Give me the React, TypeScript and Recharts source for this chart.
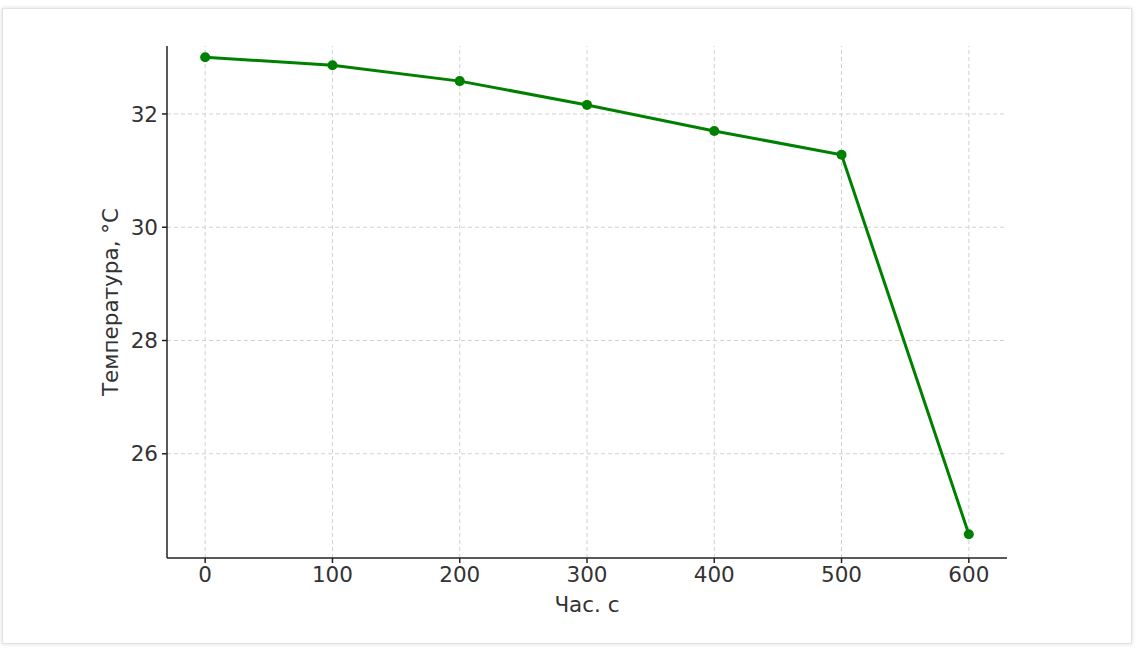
import React from 'react';
import { LineChart, Line, XAxis, YAxis, ReferenceLine } from 'recharts';

const times = [0, 100, 200, 300, 400, 500, 600];
const temps = [33.0, 32.86, 32.58, 32.16, 31.7, 31.28, 24.58];
const xTicks = [0, 100, 200, 300, 400, 500, 600];
const yTicks = [26, 28, 30, 32];

const data = times.map((t, i) => ({ t, temp: temps[i] }));

const font = "'DejaVu Sans', sans-serif";
const fontSize = 21.5;
const axisTick = { fill: '#333', fontSize, fontFamily: font };
const gridColor = '#d0d0d0';

export default function App() {
  return (
    <div
      style={{
        position: 'absolute',
        left: 0,
        top: 0,
        width: 1136,
        height: 648,
        background: '#fff',
        overflow: 'hidden',
      }}
    >
      <div
        style={{
          position: 'absolute',
          left: 2,
          top: 8,
          width: 1128,
          height: 634,
          border: '1px solid #e2e2e2',
          boxShadow: '0 0 4px rgba(0,0,0,0.15)',
        }}
      />
      <div style={{ position: 'absolute', left: 0, top: 0 }}>
        <LineChart
          width={1136}
          height={648}
          data={data}
          margin={{ top: 46, right: 129, bottom: 30, left: 107 }}
        >
          {/* grid lines only at the tick values */}
          {yTicks.map((v) => (
            <ReferenceLine key={'y' + v} y={v} stroke={gridColor} strokeDasharray="4 3" />
          ))}
          {xTicks.map((v) => (
            <ReferenceLine key={'x' + v} x={v} stroke={gridColor} strokeDasharray="4 3" />
          ))}
          <XAxis
            dataKey="t"
            type="number"
            domain={[-30, 630]}
            ticks={xTicks}
            height={60}
            tick={axisTick}
            tickSize={5}
            tickMargin={4}
            stroke="#222"
            strokeWidth={1.5}
            label={{ value: 'Час. с', position: 'insideBottom', offset: 6, fill: '#333', fontSize, fontFamily: font }}
          />
          <YAxis
            type="number"
            domain={[24.16, 33.2]}
            ticks={yTicks}
            allowDataOverflow
            width={60}
            tick={axisTick}
            tickSize={5}
            tickMargin={4}
            stroke="#222"
            strokeWidth={1.5}
            label={{ value: 'Температура, °C', angle: -90, position: 'insideLeft', offset: 3, fill: '#333', fontSize, fontFamily: font, style: { textAnchor: 'middle' } }}
          />
          <Line
            type="linear"
            dataKey="temp"
            stroke="#008000"
            strokeWidth={3}
            dot={{ r: 5, fill: '#008000', stroke: '#008000', strokeWidth: 0 }}
            isAnimationActive={false}
          />
        </LineChart>
      </div>
    </div>
  );
}
